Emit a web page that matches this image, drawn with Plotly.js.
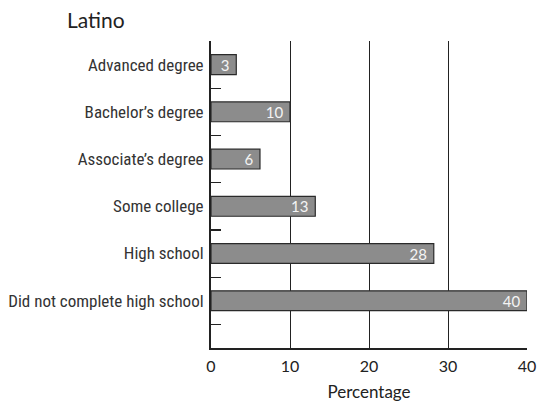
<!DOCTYPE html>
<html><head><meta charset="utf-8">
<script src="https://cdn.plot.ly/plotly-3.0.1.min.js"></script>
<style>html,body{margin:0;padding:0;background:#fff}#chart{width:538px;height:405px}</style>
</head><body><div id="chart"></div>
<script>
const categories = ["Did not complete high school","High school","Some college","Associate’s degree","Bachelor’s degree","Advanced degree"];
const values = [40, 28.2, 13.2, 6.2, 10, 3.2];
const valueLabels = ["40","28","13","6","10","3"];
const xTicks = [0, 10, 20, 30, 40];
const positions = categories.map((c, i) => i);
const boundaries = [-0.5, 0.5, 1.5, 2.5, 3.5, 4.5, 5.5];

const bars = {
  type: 'bar', orientation: 'h',
  x: values, y: positions,
  text: valueLabels, texttemplate: '%{text}\u00a0', textposition: 'inside', insidetextanchor: 'end', textangle: 0,
  constraintext: 'none',
  textfont: {color: '#f4f4f4', size: 15, family: 'Lato, "Open Sans", sans-serif'},
  width: 0.42,
  marker: {color: '#8c8c8c', line: {color: '#2a2a2a', width: 1.2}},
  hoverinfo: 'none', cliponaxis: false
};
const tickTrace = {
  type: 'scatter', mode: 'markers', x: [0], y: [0], yaxis: 'y2',
  marker: {opacity: 0}, hoverinfo: 'none', showlegend: false
};

Plotly.newPlot('chart', [bars, tickTrace], {
  width: 538, height: 405,
  margin: {l: 211, r: 11, t: 41, b: 57},
  paper_bgcolor: '#fff', plot_bgcolor: '#fff',
  showlegend: false,
  title: {text: 'Latino', x: 67/538, xanchor: 'left', y: 0.95, yanchor: 'middle',
          font: {family: 'Lato, "Open Sans", sans-serif', size: 21, color: '#222'}},
  xaxis: {range: [0, 40], tickvals: xTicks, ticktext: xTicks.map(String),
          showgrid: true, gridcolor: '#222', gridwidth: 1,
          zeroline: false, showline: true, linecolor: '#222', linewidth: 2,
          ticks: 'outside', ticklen: 3, tickcolor: 'rgba(0,0,0,0)',
          tickfont: {family: 'Lato, "Open Sans", sans-serif', size: 16, color: '#222'},
          title: {text: 'Percentage', standoff: 12, font: {family: 'Lato, "Open Sans", sans-serif', size: 17, color: '#222'}},
          fixedrange: true},
  yaxis: {range: [-1, 5.5], tickvals: positions, ticktext: categories,
          showgrid: false, zeroline: false, showline: true, linecolor: '#222', linewidth: 2,
          ticks: 'outside', ticklen: 2, tickcolor: 'rgba(0,0,0,0)',
          tickfont: {family: '"Liberation Sans Narrow", "Roboto Condensed", "DejaVu Sans Condensed", sans-serif', size: 17, weight: 400, color: '#333'},
          fixedrange: true},
  yaxis2: {overlaying: 'y', side: 'left', range: [-1, 5.5], tickvals: boundaries, showticklabels: false,
           ticks: 'inside', ticklen: 10, tickwidth: 1.2, tickcolor: '#222',
           showgrid: false, zeroline: false, showline: false, fixedrange: true},
  bargap: 0.58
}, {displayModeBar: false, staticPlot: true});
</script></body></html>
